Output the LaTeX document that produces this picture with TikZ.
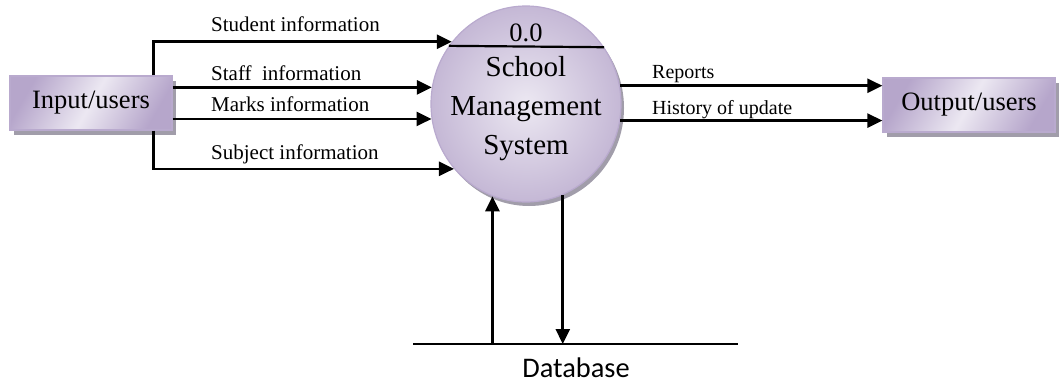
\documentclass[tikz,border=0pt]{standalone}
\usepackage{fontspec}
\setmainfont{Liberation Serif}
\newfontfamily\dbfont{Carlito}
\usepackage{tikz}
\usetikzlibrary{arrows.meta,shapes.geometric,shadows}
\definecolor{lilac}{HTML}{ECE8F2}
\definecolor{lilacdark}{HTML}{B6A6CB}
\definecolor{lilacline}{HTML}{B9AACE}
\definecolor{shadowgray}{HTML}{A19DAA}
\tikzset{
	entity/.style={draw=lilacline, line width=1.2pt, minimum height=54pt, inner sep=0pt,
		left color=lilacdark, right color=lilacdark, middle color=lilac, shading angle=60,
		drop shadow={shadow xshift=4pt, shadow yshift=-5pt, fill=shadowgray, opacity=1},
		font=\fontsize{26.5}{30}\selectfont},
	process/.style={ellipse, draw=lilacline, line width=1.2pt, minimum width=190pt, minimum height=196pt, inner sep=0pt,
		shading=radial, inner color=lilac, outer color=lilacdark!80,
		drop shadow={shadow xshift=3pt, shadow yshift=-4pt, fill=shadowgray, opacity=1}},
	flow/.style={line width=2.6pt, -{Triangle[length=15pt,width=14pt]}},
	flowlabel/.style={anchor=base west, inner sep=0pt, font=\fontsize{21}{24}\selectfont},
	outlabel/.style={anchor=base west, inner sep=0pt, font=\fontsize{20}{23}\selectfont}
}

\begin{document}
\begin{tikzpicture}[x=1pt,y=-1pt]
	\useasboundingbox (0,0) rectangle (1059,390);
	\node[entity, minimum width=162pt] (input) at (91,103) {Input/users};
	\node[entity, minimum width=172pt] (output) at (969,105) {Output/users};
	\node[process] (sms) at (526,104) {};
	\node[inner sep=0pt, font=\fontsize{26.5}{30}\selectfont] (num) at (526,33) {0.0};
	\draw[line width=2.2pt] (sms.143.6) -- (sms.36.4);
	\node[align=center, inner sep=0pt, font=\fontsize{29}{39}\selectfont] (smsname) at (526,109) {School\\Management\\System};
	\draw[flow] ([xshift=-19pt]input.north east) |- (sms.140);
	\draw[flow] (input.east |- sms.170) -- (sms.170);
	\draw[flow] (input.east |- sms.189) -- (sms.189);
	\draw[flow] ([xshift=-19pt]input.south east) |- (sms.222.4);
	\draw[flow] (sms.11) -- (output.west |- sms.11);
	\draw[flow] (sms.350) -- (output.west |- sms.350);
	\node[flowlabel] (stu) at (211,32) {Student information};
	\node[flowlabel] (sta) at (211,81) {Staff\ \ information};
	\node[flowlabel] (mar) at (211,112) {Marks information};
	\node[flowlabel] (sub) at (211,160) {Subject information};
	\node[outlabel] (rep) at (652,79) {Reports};
	\node[outlabel] (his) at (652,115) {History of update};
	\coordinate (dbleft) at (413,344);
	\coordinate (dbright) at (738,344);
	\draw[line width=1.8pt] (dbleft) -- (dbright);
	\node[font=\dbfont\fontsize{28.4}{32}\selectfont, inner sep=0pt] (db) at (576,368) {Database};
	\draw[flow] (sms.250.2 |- dbleft) -- (sms.250.2);
	\draw[flow] (sms.292.3) -- (sms.292.3 |- dbleft);
\end{tikzpicture}
\end{document}
